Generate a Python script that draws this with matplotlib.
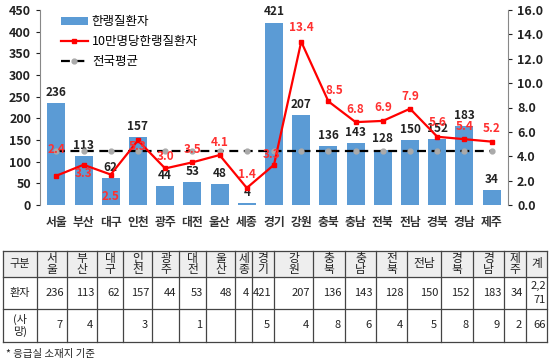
import numpy as np
import matplotlib
matplotlib.use('Agg')
import matplotlib.pyplot as plt

plt.rcParams['font.family'] = ['Noto Sans CJK KR', 'DejaVu Sans']

regions = ['서울', '부산', '대구', '인천', '광주', '대전', '울산', '세종', '경기',
           '강원', '충북', '충남', '전북', '전남', '경북', '경남', '제주']
patients = [236, 113, 62, 157, 44, 53, 48, 4, 421, 207, 136, 143, 128, 150, 152, 183, 34]
rate = [2.4, 3.3, 2.5, 5.3, 3.0, 3.5, 4.1, 1.4, 3.3, 13.4, 8.5, 6.8, 6.9, 7.9, 5.6, 5.4, 5.2]
national_avg = 4.4
deaths = [7, 4, None, 3, None, 1, None, None, 5, 4, 8, 6, 4, 5, 8, 9, 2]
total_patients = '2,2\n71'
total_deaths = '66'
# table header texts (stacked like the original)
table_heads = ['서\n울', '부\n산', '대\n구', '인\n천', '광\n주', '대\n전', '울\n산', '세\n종', '경\n기',
               '강\n원', '충\n북', '충\n남', '전\n북', '전남', '경\n북', '경\n남', '제\n주', '계']

# label offsets for the red rate labels (pixels, up is positive)
rate_dy = [26, -9, -22, -6, 12, 13, 13, 13, 10, 14, 11, 13, 13, 12, 14, 13, 13]
rate_dx = [0, 0, 0, 0, 0, 0, 0, 0, -2, 0, 6, 0, 0, 0, 0, 0, 0]

fig = plt.figure(figsize=(5.5, 3.62), dpi=100)
W, H = 550, 362

ax = fig.add_axes([40 / W, 1 - 205 / H, 468 / W, 195 / H])
x = np.arange(len(regions))
bars = ax.bar(x, patients, width=0.66, color='#5b9bd5', label='한랭질환자', zorder=2)
for xi, v in zip(x, patients):
    ax.annotate(str(v), (xi, v), xytext=(0, 3), textcoords='offset points',
                ha='center', va='bottom', fontsize=8.5, fontweight='bold', color='#222222')
ax.set_ylim(0, 450)
ax.set_yticks(range(0, 451, 50))
ax.set_xlim(-0.6, len(regions) - 0.4)
ax.set_xticks(x)
ax.set_xticklabels(regions, fontsize=8.5, fontweight='bold', color='#333333')
ax.tick_params(axis='x', length=0, pad=8)
ax.tick_params(axis='y', labelsize=9, colors='#222222', length=3, direction='out')
for lab in ax.get_yticklabels():
    lab.set_fontweight('bold')
for s in ['top', 'right']:
    ax.spines[s].set_visible(False)
ax.spines['left'].set_color('#888888')
ax.spines['bottom'].set_visible(False)

ax2 = ax.twinx()
ax2.set_ylim(0, 16)
ax2.set_yticks(np.arange(0, 16.1, 2))
ax2.set_yticklabels([f'{v:.1f}' for v in np.arange(0, 16.1, 2)])
ax2.tick_params(axis='y', labelsize=9, colors='#222222', length=3)
for lab in ax2.get_yticklabels():
    lab.set_fontweight('bold')
for s in ['top', 'left', 'bottom']:
    ax2.spines[s].set_visible(False)
ax2.spines['right'].set_color('#888888')

line, = ax2.plot(x, rate, color='#ff0000', lw=1.6, marker='s', markersize=3.5,
                 label='10만명당한랭질환자', zorder=4)
avg, = ax2.plot(x, [national_avg] * len(x), color='black', lw=1.6, ls=(0, (4, 2.5)),
                marker='o', markersize=3.5, markerfacecolor='#aaaaaa', markeredgecolor='#aaaaaa',
                label='전국평균', zorder=3)
for xi, v, dy, dx in zip(x, rate, rate_dy, rate_dx):
    ax2.annotate(f'{v:.1f}', (xi, v), xytext=(dx * 0.72, dy * 0.72), textcoords='offset points',
                 ha='center', va='center', fontsize=8.5, fontweight='bold', color='#ff3030', zorder=5)

ax.legend(handles=[bars, line, avg], loc='upper left', bbox_to_anchor=(0.02, 1.03),
          frameon=False, fontsize=9, handlelength=2.2, handletextpad=0.3, labelspacing=0.55)

# table drawn in pixel coordinates
tb = fig.add_axes([0, 0, 1, 1])
tb.set_xlim(0, W)
tb.set_ylim(H, 0)
tb.axis('off')
col_edges = [3, 37, 67, 97, 123, 152, 179, 206, 235, 252, 274, 313, 345, 376, 407, 441, 473, 504, 526, 547]
row_edges = [251, 277, 309, 342]
tb.add_patch(plt.Rectangle((3, 251), 544, 26, color='#eeeeee', zorder=0))
for ye in row_edges:
    tb.plot([3, 547], [ye, ye], color='#444444', lw=0.9)
for xe in col_edges:
    tb.plot([xe, xe], [251, 342], color='#444444', lw=0.9)

fs = 8
tb.text(20, 264, '구분', ha='center', va='center', fontsize=fs, color='#222222')
tb.text(20, 293, '환자', ha='center', va='center', fontsize=fs, color='#222222')
tb.text(20, 325.5, '(사\n망)', ha='center', va='center', fontsize=fs, color='#222222', linespacing=1.1)
for i, h in enumerate(table_heads):
    xl, xr = col_edges[i + 1], col_edges[i + 2]
    tb.text((xl + xr) / 2, 264, h, ha='center', va='center', fontsize=8.5, color='#222222',
            linespacing=0.85)
    if i < len(patients):
        tb.text(xr - 3, 293, str(patients[i]), ha='right', va='center', fontsize=fs, color='#222222')
        if deaths[i] is not None:
            tb.text(xr - 4, 325.5, str(deaths[i]), ha='right', va='center', fontsize=fs, color='#222222')
    else:
        tb.text(xr - 1, 293, total_patients, ha='right', va='center', fontsize=fs, color='#222222',
                linespacing=1.4)
        tb.text(xr - 1, 325.5, total_deaths, ha='right', va='center', fontsize=fs, color='#222222')

tb.text(6, 354, '* 응급실 소재지 기준', ha='left', va='center', fontsize=7.5, color='#222222')

fig.savefig('out.png', dpi=100)
